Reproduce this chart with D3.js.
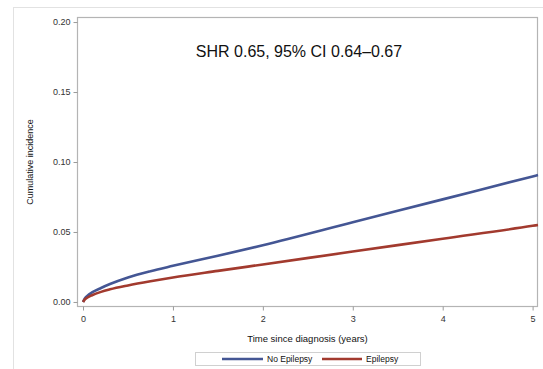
<!DOCTYPE html>
<html>
<head>
<meta charset="utf-8">
<script src="https://cdn.jsdelivr.net/npm/d3@7"></script>
<style>
  body { margin: 0; background: #fff; }
  svg { font-family: "Liberation Sans", Arial, sans-serif; }
</style>
</head>
<body>
<div id="chart"></div>
<script>
// time since diagnosis (years)
var times = [0, 0.02, 0.05, 0.1, 0.2, 0.3, 0.5, 0.75, 1, 1.5, 2, 3, 4, 5, 5.06];
// cumulative incidence
var noEpilepsy = [0, 0.0025, 0.0045, 0.0068, 0.0100, 0.0128, 0.0175, 0.0220, 0.0258, 0.0330, 0.0405, 0.0569, 0.0733, 0.0897, 0.0907];
var epilepsy   = [0, 0.0018, 0.0032, 0.0048, 0.0072, 0.0090, 0.0118, 0.0148, 0.0175, 0.0222, 0.0268, 0.0360, 0.0452, 0.0544, 0.0550];

var xTicks = [0, 1, 2, 3, 4, 5];
var yTicks = [0, 0.05, 0.10, 0.15, 0.20];
var seriesNames = ["No Epilepsy", "Epilepsy"];
var seriesColors = ["#445694", "#A23A2E"];
var annotation = "SHR 0.65, 95% CI 0.64\u20130.67";

var W = 543, H = 369;
var svg = d3.select("#chart").append("svg").attr("width", W).attr("height", H);

// outer frame (light)
svg.append("rect")
   .attr("x", 13.5).attr("y", 7.5)
   .attr("width", 540).attr("height", 400)
   .style("fill", "none").style("stroke", "#e2e2e2").style("stroke-width", 1);

// plot area edges (in px)
var pLeft = 77, pRight = 538, pTop = 17, pBottom = 307;

var x = d3.scaleLinear().domain([-0.067, 5.06]).range([pLeft, pRight]);
var y = d3.scaleLinear().domain([-0.0036, 0.2036]).range([pBottom, pTop]);

// plot box
svg.append("rect")
   .attr("x", pLeft + 0.5).attr("y", pTop + 0.5)
   .attr("width", pRight - pLeft - 1).attr("height", pBottom - pTop - 1)
   .style("fill", "none").style("stroke", "#b4b4b4").style("stroke-width", 1.2);

var yAxis = svg.append("g")
   .attr("transform", "translate(" + (pLeft + 0.5) + ",0)")
   .call(d3.axisLeft(y).tickValues(yTicks).tickFormat(d3.format(".2f")).tickSize(4).tickPadding(3));
var xAxis = svg.append("g")
   .attr("transform", "translate(0," + (pBottom - 0.5) + ")")
   .call(d3.axisBottom(x).tickValues(xTicks).tickFormat(d3.format("d")).tickSize(4).tickPadding(5));

[xAxis, yAxis].forEach(function(a) {
  a.select(".domain").remove();
  a.selectAll(".tick line").style("stroke", "#9a9a9a");
  a.selectAll(".tick text").style("font-size", "9px").style("fill", "#333")
   .style("font-family", "'Liberation Sans', Arial, sans-serif");
});

// axis titles
svg.append("text")
   .attr("x", (pLeft + pRight) / 2).attr("y", 342)
   .attr("text-anchor", "middle")
   .style("font-size", "9.5px").style("fill", "#111")
   .text("Time since diagnosis (years)");

svg.append("text")
   .attr("transform", "translate(33," + ((pTop + pBottom) / 2) + ") rotate(-90)")
   .attr("text-anchor", "middle")
   .style("font-size", "9px").style("fill", "#111")
   .text("Cumulative incidence");

// annotation
svg.append("text")
   .attr("x", 299).attr("y", 57)
   .attr("text-anchor", "middle")
   .style("font-size", "16px").style("fill", "#111")
   .text(annotation);

// curves
var series = [noEpilepsy, epilepsy];
var line = d3.line()
   .x(function(d) { return x(d[0]); })
   .y(function(d) { return y(d[1]); })
   .curve(d3.curveMonotoneX);

series.forEach(function(vals, i) {
  var pts = times.map(function(t, j) { return [t, vals[j]]; });
  svg.append("path")
     .attr("d", line(pts))
     .style("fill", "none")
     .style("stroke", seriesColors[i])
     .style("stroke-width", 2.6);
});

// legend
var leg = svg.append("g");
leg.append("rect")
   .attr("x", 195.5).attr("y", 352.5).attr("width", 225).attr("height", 13)
   .style("fill", "none").style("stroke", "#d0d0d0").style("stroke-width", 1);

var legItems = [
  {x1: 222, x2: 263, tx: 267},
  {x1: 322, x2: 362, tx: 366}
];
legItems.forEach(function(it, i) {
  leg.append("line")
     .attr("x1", it.x1).attr("x2", it.x2).attr("y1", 359).attr("y2", 359)
     .style("stroke", seriesColors[i]).style("stroke-width", 2.6);
  leg.append("text")
     .attr("x", it.tx).attr("y", 362)
     .style("font-size", "8.5px").style("fill", "#111")
     .text(seriesNames[i]);
});
</script>
</body>
</html>
